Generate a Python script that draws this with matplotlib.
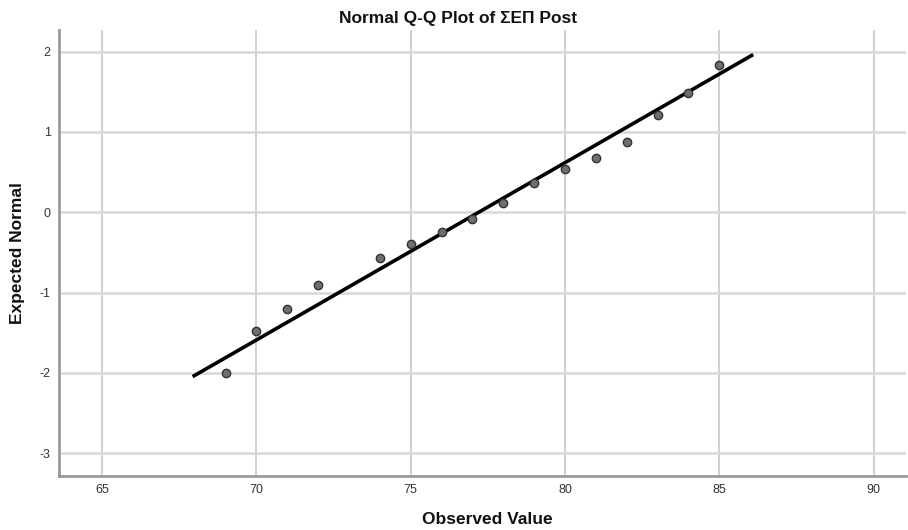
import matplotlib
matplotlib.use("Agg")
import matplotlib.pyplot as plt

plt.rcParams['font.family'] = ['Liberation Sans', 'DejaVu Sans']
plt.rcParams['axes.unicode_minus'] = False

# Observed scores and their expected normal quantiles
observed = [69, 70, 71, 72, 74, 75, 76, 77, 78, 79, 80, 81, 82, 83, 84, 85]
expected = [-2.00, -1.48, -1.20, -0.91, -0.565, -0.40, -0.25, -0.084,
            0.12, 0.36, 0.545, 0.68, 0.87, 1.21, 1.49, 1.83]

# Reference normal line (mean, sd) and its drawn x-extent
line_mean = 77.2
line_sd = 4.53
line_x = [67.93, 86.1]

x_ticks = [65, 70, 75, 80, 85, 90]
y_ticks = [-3, -2, -1, 0, 1, 2]

fig = plt.figure(figsize=(9.08, 5.30), dpi=100)
ax = fig.add_axes([59 / 908, 1 - 475.7 / 530, (906 - 59) / 908, (475.7 - 30) / 530])

ax.set_xlim(63.6, 91.05)
ax.set_ylim(-3.28, 2.27)

ax.set_xticks(x_ticks)
ax.set_yticks(y_ticks)
ax.tick_params(length=0, labelsize=9, colors='#333333', pad=6)

for xv in x_ticks:
    ax.axvline(xv, color='#c4c4c4', lw=1.1, zorder=0)
for yv in y_ticks:
    ax.axhline(yv, color='#d8d8d8', lw=1.8, zorder=0)

for side in ['top', 'right']:
    ax.spines[side].set_visible(False)
for side in ['left', 'bottom']:
    ax.spines[side].set_color('#999999')
    ax.spines[side].set_linewidth(2.0)

line_y = [(v - line_mean) / line_sd for v in line_x]
ax.plot(line_x, line_y, color='black', lw=2.6, solid_capstyle='butt', zorder=2)

ax.scatter(observed, expected, s=36, facecolor='#6e6e6e', edgecolor='#333333',
           linewidth=1.0, zorder=3)

fig.text(458 / 908, 1 - 18 / 530, 'Normal Q-Q Plot of ΣΕΠ Post', ha='center',
         va='center', fontsize=12.5, fontweight='bold', color='#111111')
fig.text(487 / 908, 1 - 520 / 530, 'Observed Value', ha='center', va='center',
         fontsize=12.5, fontweight='bold', color='#111111')
fig.text(18 / 908, 1 - 253 / 530, 'Expected Normal', ha='center', va='center',
         rotation=90, fontsize=12.5, fontweight='bold', color='#111111')

fig.savefig('out.png', dpi=100, facecolor='white')
